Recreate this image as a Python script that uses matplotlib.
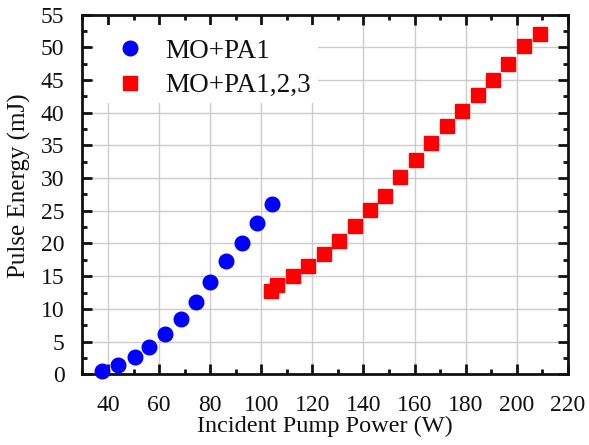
import matplotlib
matplotlib.use('Agg')
import matplotlib.pyplot as plt
from matplotlib.patches import Rectangle
from matplotlib.ticker import MultipleLocator

plt.rcParams['font.family'] = ['Liberation Serif', 'DejaVu Serif']

# MO+PA1 (blue circles)
pa1_power = [37.6, 43.9, 50.5, 56.2, 62.3, 68.5, 74.3, 80.1, 86.2, 92.3, 98.3, 104.2]
pa1_energy = [0.5, 1.4, 2.7, 4.1, 6.1, 8.4, 11.1, 14.1, 17.3, 20.0, 23.1, 26.1]

# MO+PA1,2,3 (red squares)
pa123_power = [103.9, 106.3, 112.3, 118.3, 124.4, 130.6, 136.6, 142.7, 148.6, 154.5,
               160.6, 166.6, 172.7, 178.6, 184.8, 190.8, 196.7, 202.9, 209.2]
pa123_energy = [12.8, 13.7, 15.0, 16.5, 18.4, 20.4, 22.6, 25.1, 27.3, 30.2,
                32.7, 35.3, 37.9, 40.3, 42.7, 45.0, 47.4, 50.2, 52.0]

fig = plt.figure(figsize=(5.89, 4.45), dpi=100)
ax = fig.add_axes([0.140, 0.159, 0.824, 0.808])

ax.plot(pa1_power, pa1_energy, 'o', color='#0000ff', markersize=10.5,
        label='MO+PA1', clip_on=False, zorder=4)
ax.plot(pa123_power, pa123_energy, 's', color='#ff0000', markersize=9.5,
        label='MO+PA1,2,3', clip_on=False, zorder=4)

ax.set_xlim(30, 220)
ax.set_ylim(0, 55)
ax.xaxis.set_major_locator(MultipleLocator(20))
ax.xaxis.set_minor_locator(MultipleLocator(10))
ax.yaxis.set_major_locator(MultipleLocator(5))
ax.yaxis.set_minor_locator(MultipleLocator(2.5))
ax.set_xticks(range(40, 221, 20))

ax.grid(True, which='major', color='#cccccc', linewidth=1.0)
ax.set_axisbelow(True)

ax.tick_params(which='both', direction='in', top=True, right=True,
               labelsize=17, width=2, colors='#111111')
ax.tick_params(axis='x', which='major', pad=15)
ax.tick_params(axis='y', which='major', pad=13)
ax.tick_params(which='major', length=7)
ax.tick_params(which='minor', length=3.5)
for sp in ax.spines.values():
    sp.set_linewidth(2)
    sp.set_color('#111111')

ax.set_xlabel('Incident Pump Power (W)', fontsize=17.5, labelpad=0, color='#111111')
ax.set_ylabel('Pulse Energy (mJ)', fontsize=18, color='#111111')
ax.yaxis.set_label_coords(-0.105, 0.524)

# white patch behind the legend hides the grid but keeps the spine ticks
ax.add_patch(Rectangle((0.023, 0.755), 0.462, 0.216, transform=ax.transAxes,
                       facecolor='white', edgecolor='none', zorder=0.6))

leg = ax.legend(loc='upper left', bbox_to_anchor=(0.0, 0.978), fontsize=19.5,
                frameon=False, borderaxespad=0, borderpad=0.6, handlelength=2.3,
                handletextpad=0.15, labelspacing=0.35)
for t in leg.get_texts():
    t.set_color('#111111')

fig.savefig('out.png', dpi=100)
